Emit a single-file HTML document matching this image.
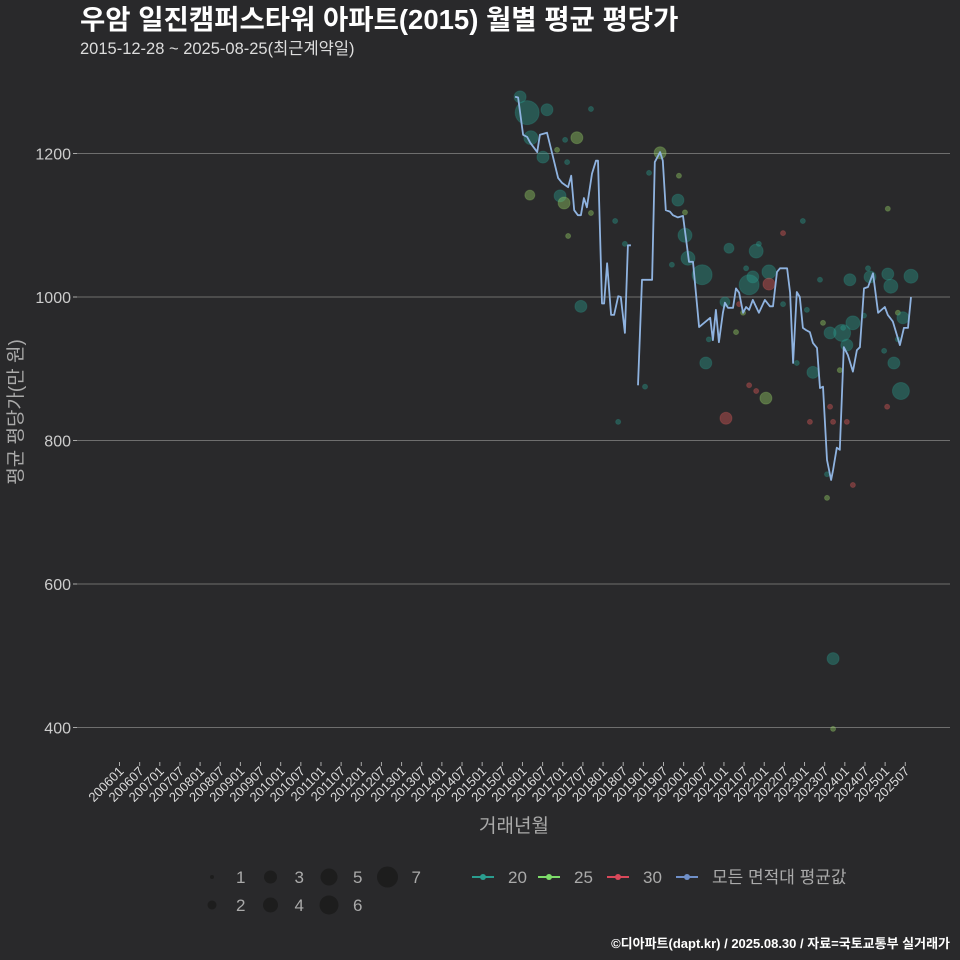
<!DOCTYPE html>
<html><head><meta charset="utf-8"><style>
html,body{margin:0;padding:0;background:#29292b;}
svg{display:block;font-family:"Liberation Sans","Noto Sans CJK KR",sans-serif;}
</style></head><body>
<svg id="chart" width="960" height="960" viewBox="0 0 960 960" xmlns="http://www.w3.org/2000/svg">
<rect width="960" height="960" fill="#29292b"/>
<text x="80" y="29" fill="#ffffff" font-size="27.5" font-weight="bold">우암 일진캠퍼스타워 아파트(2015) 월별 평균 평당가</text>
<text x="80" y="54" fill="#dddddd" font-size="16.5">2015-12-28 ~ 2025-08-25(최근계약일)</text>
<g id="grid"></g>
<g id="yaxis"></g>
<g id="xaxis"></g>
<g id="bubbles"></g>
<g id="line"></g>
<text x="514" y="832" fill="#aaaaaa" font-size="19" text-anchor="middle">거래년월</text>
<text transform="translate(22,412) rotate(-90)" fill="#aaaaaa" font-size="19" text-anchor="middle">평균 평당가(만 원)</text>
<g id="legend"></g>
<text x="950" y="948" fill="#ffffff" font-size="13" font-weight="bold" text-anchor="end">©디아파트(dapt.kr) / 2025.08.30 / 자료=국토교통부 실거래가</text>
</svg>
<script>
const yTicks = [400, 600, 800, 1000, 1200];
const xTickLabels = ["200601","200607","200701","200707","200801","200807","200901","200907","201001","201007","201101","201107","201201","201207","201301","201307","201401","201407","201501","201507","201601","201607","201701","201707","201801","201807","201901","201907","202001","202007","202101","202107","202201","202207","202301","202307","202401","202407","202501","202507"];
// month index since 2006-01; null = gap
const lineMonths = [117.8,118.7,120.2,121.4,122.3,124.4,125.2,127.3,128.8,130.6,131.8,133.6,134.5,135.4,136.5,137.4,138.3,139.2,140.7,141.9,142.5,143.7,144.3,145.2,146.4,147.3,148.5,149.3,150.5,151.4,152.3,null,154.4,155.6,158.6,159.4,161.0,161.8,162.7,163.9,164.8,166.3,167.8,169.6,170.8,172.6,174.4,175.9,176.7,177.6,178.5,179.7,180.3,181.2,182.7,183.6,184.5,185.7,186.6,187.5,188.6,190.4,192.2,193.7,194.6,195.8,196.7,198.8,199.7,200.6,201.7,202.6,203.5,204.4,205.6,206.5,207.7,208.6,209.5,210.7,211.9,212.5,213.6,214.5,215.7,216.9,218.4,219.6,220.5,221.7,222.9,224.4,225.9,227.9,228.8,230.3,232.4,233.6,234.8,235.7];
const lineValues = [1279,1278,1226,1223,1215,1202,1226,1229,1201,1166,1159,1153,1169,1121,1114,1114,1138,1125,1172,1190,1190,991,991,1047,975,975,1001,1000,950,1072,1072,null,877,1024,1024,1188,1202,1190,1121,1119,1114,1111,1113,1049,1049,958,965,971,940,982,937,978,992,985,985,1012,1006,978,986,982,996,978,996,987,987,1035,1040,1040,1006,908,1007,1000,957,954,951,936,929,873,875,773,745,759,790,787,930,919,896,926,930,1012,1014,1033,978,986,975,966,933,957,957,1000];
const bubbleMonths = [119.3,121.4,127.3,140.4,136.2,122.5,132.7,130.3,126.1,133.3,122.2,131.2,132.4,140.4,133.6,147.6,150.5,137.4,161.0,157.7,166.6,166.3,168.4,168.4,169.3,164.5,173.5,180.3,174.6,175.5,156.5,148.5,180.6,181.5,189.6,190.4,203.5,197.6,228.8,187.5,188.6,193.4,193.4,186.6,208.6,217.5,223.5,228.8,229.7,235.7,222.9,184.5,185.7,197.6,204.7,183.6,209.5,211.6,215.2,218.4,216.6,215.5,221.7,231.8,233.3,231.8,201.7,206.5,214.5,227.7,230.6,232.7,187.5,189.6,192.5,211.6,228.6,205.6,212.5,216.6,218.4,210.7,210.7,212.5,212.5];
const bubbleValues = [1279,1257,1261,1262,1222,1222,1219,1205,1195,1188,1142,1141,1131,1117,1085,1106,1074,987,1201,1173,1169,1135,1118,1086,1054,1045,1031,993,908,941,875,826,831,1068,1064,1074,1106,1089,1123,1017,1028,1035,1018,1040,1024,1024,1028,1032,1015,1029,1040,990,978,990,982,951,964,950,950,964,933,957,974,978,971,941,908,895,898,925,908,869,877,869,859,847,847,826,826,826,738,753,720,496,398];
const bubbleSizes = [3,7,3,1,3,4,1,1,3,1,2,3,3,1,1,1,1,3,3,1,1,3,1,4,4,1,6,2,3,1,1,1,3,2,4,1,1,1,1,6,3,4,3,1,1,3,3,3,4,4,1,1,1,1,1,1,1,3,5,4,3,1,1,1,3,1,1,3,1,1,3,5,1,1,3,1,1,1,1,1,1,1,1,3,1];
const bubbleTypes = ["20","20","20","20","25","20","20","25","20","20","25","20","25","25","25","20","20","20","25","20","25","20","25","20","20","20","20","20","20","20","20","20","30","20","20","20","20","30","25","20","20","20","30","20","20","20","20","20","20","20","20","30","25","20","20","25","25","20","20","20","20","20","20","25","20","20","20","20","25","20","20","20","30","30","25","30","30","30","30","30","30","20","25","20","25"];
const sizeLabels = [1,2,3,4,5,6,7];
const radius = {1:2.5,2:5,3:6,4:7,5:8.5,6:10,7:12};
const colors = {"20":"#2a9d8f","25":"#9ad86a","30":"#e05a5a"};
const NS = "http://www.w3.org/2000/svg";
const xs = m => 119.5 + m * 3.358;
const ys = v => 297 - (v - 1000) * 0.7175;
function mk(tag, attrs, parent){const e=document.createElementNS(NS,tag);for(const k in attrs)e.setAttribute(k,attrs[k]);parent.appendChild(e);return e;}
const grid=document.getElementById('grid'), yax=document.getElementById('yaxis'), xax=document.getElementById('xaxis');
yTicks.forEach(t=>{
  const l=mk('line',{x1:77,x2:950,y1:ys(t),y2:ys(t),stroke:'#6e6e6e','stroke-width':1},grid);
  
  
  const tk=mk('line',{x1:73,x2:77,y1:ys(t),y2:ys(t),stroke:'#aaa'},yax);
  
  
  const tx=mk('text',{x:71,y:ys(t)+6,fill:'#cccccc','font-size':16,'text-anchor':'end'},yax);
  tx.textContent=t;
  
  
});
xTickLabels.forEach((lab,i)=>{
  const x=xs(i*6);
  const tk=mk('line',{x1:x,x2:x,y1:762,y2:766,stroke:'#aaa'},xax);
  
  
  const tx=mk('text',{transform:`translate(${x+5},${772}) rotate(-45)`,fill:'#dddddd','font-size':13,'text-anchor':'end'},xax);
  tx.textContent=lab;
  
  
});
const bg=document.getElementById('bubbles');
bubbleMonths.forEach((m,i)=>{
  const c=mk('circle',{cx:xs(m),cy:ys(bubbleValues[i]),r:radius[bubbleSizes[i]],fill:colors[bubbleTypes[i]],'fill-opacity':0.4,stroke:colors[bubbleTypes[i]],'stroke-opacity':0.25},bg);
  
  
});
const lg=document.getElementById('line');
let d='',pen=false;
lineMonths.forEach((m,i)=>{
  if(m===null||lineValues[i]===null){pen=false;return;}
  d+=(pen?'L':'M')+xs(m).toFixed(1)+','+ys(lineValues[i]).toFixed(1);pen=true;
});
const p=mk('path',{d:d,fill:'none',stroke:'#8fb3e0','stroke-width':1.8,'stroke-linejoin':'round'},lg);


const leg=document.getElementById('legend');
sizeLabels.forEach((s,i)=>{
  const col=Math.floor(i/2), row=i%2;
  const cx=212+col*58.5, cy=877+row*28;
  const c=mk('circle',{cx:cx,cy:cy,r:[2,4.5,6.5,7.5,8.5,9.5,10.5][i],fill:'#1a1a1a','fill-opacity':0.8},leg);
  
  
  const t=mk('text',{x:cx+24,y:cy+6,fill:'#aaaaaa','font-size':17,'text-anchor':'start'},leg);
  t.textContent=s;
  
  
});
const legItems=[["20",colors["20"],472],["25","#7ddc6a",538],["30","#d9485a",607],["모든 면적대 평균값","#6f8fc8",676]];
legItems.forEach(([lab,col,x])=>{
  const l=mk('line',{x1:x,x2:x+22,y1:877,y2:877,stroke:col,'stroke-width':2},leg);
  
  
  const c=mk('circle',{cx:x+11,cy:877,r:3,fill:col},leg);
  
  
  const t=mk('text',{x:x+36,y:883,fill:'#aaaaaa','font-size':17},leg);
  t.textContent=lab;
  
  
});
</script>
</body></html>
